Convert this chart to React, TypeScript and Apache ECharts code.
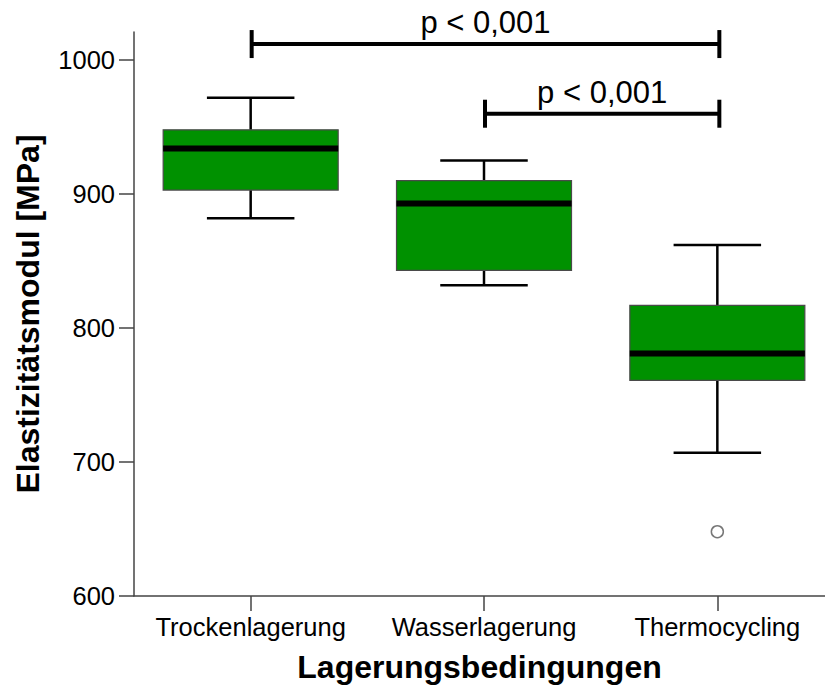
import React, { useEffect, useRef } from "react";
import * as echarts from "echarts";

const categories = ["Trockenlagerung", "Wasserlagerung", "Thermocycling"];
const whiskerLow = [882, 832, 707];
const q1 = [903, 843, 761];
const median = [934, 893, 781];
const q3 = [948, 910, 817];
const whiskerHigh = [972, 925, 862];
const outlierCategory = [2];
const outlierValue = [648];
const yTicks = [600, 700, 800, 900, 1000];
const xTicks = [0, 1, 2];
const bracketFrom = [0, 1];
const bracketTo = [2, 2];
const bracketLevel = [1012, 960];
const bracketLabel = ["p < 0,001", "p < 0,001"];

const FONT = '"Liberation Sans", Arial, sans-serif';

export default function App() {
  const ref = useRef<HTMLDivElement>(null);
  useEffect(() => {
    if (!ref.current) return;
    const chart = echarts.init(ref.current, null, { renderer: "svg" });
    const boxData = categories.map((_, i) => [i, whiskerLow[i], q1[i], median[i], q3[i], whiskerHigh[i]]);
    const bracketData = bracketFrom.map((f, i) => [f, bracketTo[i], bracketLevel[i], i]);
    const outlierData = outlierCategory.map((c, i) => [c, outlierValue[i]]);
    chart.setOption({
      animation: false,
      textStyle: { fontFamily: FONT },
      grid: { left: 134, top: 32, right: 0, bottom: 94 },
      xAxis: {
        type: "value",
        min: -0.5,
        max: 2.4614,
        name: "Lagerungsbedingungen",
        nameLocation: "middle",
        nameGap: 55,
        nameTextStyle: { fontSize: 32, fontWeight: "bold", color: "#000", fontFamily: FONT },
        axisLine: { show: true, onZero: false, lineStyle: { color: "#444", width: 1.5 } },
        axisTick: { show: true, length: 15, customValues: xTicks, lineStyle: { color: "#444", width: 1.5 } },
        axisLabel: {
          fontSize: 25.5,
          color: "#000",
          margin: 18,
          fontFamily: FONT,
          customValues: xTicks,
          formatter: (v: number) => (xTicks.includes(v) ? categories[v] : ""),
        },
        splitLine: { show: false },
      },
      yAxis: {
        type: "value",
        min: 600,
        max: 1021,
        interval: 100,
        name: "Elastizitätsmodul [MPa]",
        nameLocation: "middle",
        nameRotate: 90,
        nameGap: 90,
        nameTextStyle: { fontSize: 32, fontWeight: "bold", color: "#000", fontFamily: FONT },
        axisLine: { show: true, onZero: false, lineStyle: { color: "#444", width: 1.5 } },
        axisTick: { show: true, length: 15, customValues: yTicks, lineStyle: { color: "#444", width: 1.5 } },
        axisLabel: {
          fontSize: 25.5,
          color: "#000",
          margin: 19,
          fontFamily: FONT,
          customValues: yTicks,
          formatter: (v: number) => (yTicks.includes(v) ? String(v) : ""),
        },
        splitLine: { show: false },
      },
      series: [
        {
          type: "custom",
          data: boxData,
          renderItem: (params: any, api: any) => {
            const x = api.value(0);
            const band = api.size([1, 0])[0];
            const boxW = band * 0.75;
            const capW = band * 0.375;
            const cx = api.coord([x, api.value(3)])[0];
            const yLow = api.coord([x, api.value(1)])[1];
            const yQ1 = api.coord([x, api.value(2)])[1];
            const yMed = api.coord([x, api.value(3)])[1];
            const yQ3 = api.coord([x, api.value(4)])[1];
            const yHigh = api.coord([x, api.value(5)])[1];
            const lineStyle = { stroke: "#000", lineWidth: 2.5 };
            return {
              type: "group",
              children: [
                { type: "line", shape: { x1: cx, y1: yHigh, x2: cx, y2: yQ3 }, style: lineStyle },
                { type: "line", shape: { x1: cx, y1: yQ1, x2: cx, y2: yLow }, style: lineStyle },
                { type: "line", shape: { x1: cx - capW / 2, y1: yHigh, x2: cx + capW / 2, y2: yHigh }, style: lineStyle },
                { type: "line", shape: { x1: cx - capW / 2, y1: yLow, x2: cx + capW / 2, y2: yLow }, style: lineStyle },
                {
                  type: "rect",
                  shape: { x: cx - boxW / 2, y: yQ3, width: boxW, height: yQ1 - yQ3 },
                  style: { fill: "#009100", stroke: "#4a4a4a", lineWidth: 1.2 },
                },
                {
                  type: "line",
                  shape: { x1: cx - boxW / 2, y1: yMed, x2: cx + boxW / 2, y2: yMed },
                  style: { stroke: "#000", lineWidth: 6 },
                },
              ],
            };
          },
          z: 2,
        },
        {
          type: "scatter",
          data: outlierData,
          symbol: "circle",
          symbolSize: 12,
          itemStyle: { color: "#fff", borderColor: "#555", borderWidth: 1.5 },
          z: 3,
        },
        {
          type: "custom",
          data: bracketData,
          clip: false,
          renderItem: (params: any, api: any) => {
            const p1 = api.coord([api.value(0), api.value(2)]);
            const p2 = api.coord([api.value(1), api.value(2)]);
            const x1 = p1[0] + 1;
            const x2 = p2[0] + 2;
            const y = p1[1];
            const st = { stroke: "#000", lineWidth: 4 };
            return {
              type: "group",
              children: [
                { type: "line", shape: { x1, y1: y, x2, y2: y }, style: st },
                { type: "line", shape: { x1, y1: y - 14, x2: x1, y2: y + 14 }, style: st },
                { type: "line", shape: { x1: x2, y1: y - 14, x2, y2: y + 14 }, style: st },
                {
                  type: "text",
                  style: {
                    text: bracketLabel[api.value(3)],
                    x: (x1 + x2) / 2,
                    y: y - 21.5,
                    align: "center",
                    verticalAlign: "middle",
                    fill: "#000",
                    font: `31px ${FONT}`,
                  },
                },
              ],
            };
          },
          z: 4,
        },
      ],
    });
    return () => chart.dispose();
  }, []);
  return (
    <div
      ref={ref}
      style={{ position: "fixed", left: 0, top: 0, width: 825, height: 690, background: "#fff" }}
    />
  );
}
